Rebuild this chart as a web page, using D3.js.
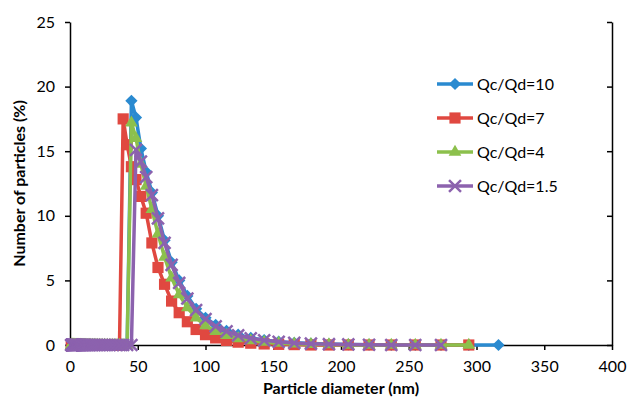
<!DOCTYPE html>
<html>
<head>
<meta charset="utf-8">
<script src="https://cdn.jsdelivr.net/npm/d3@7"></script>
<style>
  body { margin: 0; background: #fff; }
  text { font-family: Lato, "Open Sans", sans-serif; fill: #000; }
</style>
</head>
<body>
<div id="container"></div>
<script>
// size bins (nm), log spaced, shared by all series
var diameters = [1.00, 1.07, 1.15, 1.24, 1.33, 1.43, 1.54, 1.65, 1.78, 1.91,
    2.05, 2.21, 2.37, 2.55, 2.74, 2.94, 3.16, 3.40, 3.65, 3.92,
    4.22, 4.53, 4.87, 5.23, 5.62, 6.04, 6.49, 6.98, 7.50, 8.06,
    8.66, 9.31, 10.0, 10.75, 11.55, 12.41, 13.34, 14.33, 15.40, 16.55,
    17.78, 19.11, 20.54, 22.07, 23.71, 25.48, 27.38, 29.43, 31.62, 33.98,
    36.52, 39.24, 42.17, 45.32, 48.70, 52.33, 56.23, 60.43, 64.94, 69.78,
    74.99, 80.58, 86.60, 93.06, 100.0, 107.5, 115.5, 124.1, 133.4, 143.3,
    154.0, 165.5, 177.8, 191.1, 205.4, 220.7, 237.1, 254.8, 273.8, 294.3,
    316.2];

// values from index 51 (39.24 nm) on; every bin before is 0
var startIndex = 51;
var q10 = [0, 0, 18.9, 17.6, 15.2, 13.4, 11.8, 10.0, 8.1, 6.4, 5.0, 3.8, 2.8, 2.1, 1.55, 1.1,
    0.8, 0.55, 0.38, 0.26, 0.17, 0.11, 0.07, 0.04, 0.02, 0, 0, 0, 0, 0];
var q7 = [17.5, 15.5, 13.8, 12.8, 11.5, 10.2, 7.9, 6.0, 4.7, 3.4, 2.5, 1.8, 1.2, 0.8, 0.55,
    0.35, 0.22, 0.14, 0.08, 0.05, 0.03, 0, 0, 0, 0, 0, 0, 0, 0];
var q4 = [0, 0, 17.2, 16.0, 14.0, 12.3, 10.5, 8.6, 6.8, 5.2, 3.9, 2.9, 2.1, 1.5, 1.05, 0.75,
    0.5, 0.34, 0.22, 0.14, 0.09, 0.05, 0.03, 0, 0, 0, 0, 0, 0];
var q15 = [0, 0, 0, 15.1, 14.2, 13.0, 11.6, 9.8, 7.9, 6.2, 4.8, 3.6, 2.7, 2.0, 1.45, 1.05,
    0.75, 0.52, 0.36, 0.25, 0.16, 0.1, 0.06, 0.04, 0.02, 0, 0, 0];

var seriesNames = ['Qc/Qd=10', 'Qc/Qd=7', 'Qc/Qd=4', 'Qc/Qd=1.5'];
var seriesValues = [q10, q7, q4, q15];
var colors = ['#2a8ad0', '#e04840', '#8cc04c', '#8c62ae'];
var markers = ['diamond', 'square', 'triangle', 'cross'];

var xTicks = [0, 50, 100, 150, 200, 250, 300, 350, 400];
var yTicks = [0, 5, 10, 15, 20, 25];

var width = 628,
    height = 400,
    margin = { left: 70, right: 16, top: 22, bottom: 55 };

var svg = d3.select('div#container')
    .append('svg')
    .attr('width', width)
    .attr('height', height);

var x = d3.scaleLinear().domain([0, 400]).range([margin.left, width - margin.right]);
var y = d3.scaleLinear().domain([0, 25]).range([height - margin.bottom, margin.top]);

function fullSeries(vals) {
    var out = [];
    for (var i = 0; i < startIndex + vals.length; i++) {
        out.push([diameters[i], i < startIndex ? 0 : vals[i - startIndex]]);
    }
    return out;
}

// axes
var xAxis = svg.append('g')
    .attr('transform', 'translate(0,' + y(0) + ')')
    .call(d3.axisBottom(x).tickValues(xTicks).tickSize(5).tickSizeOuter(0).tickPadding(11));
var yAxis = svg.append('g')
    .attr('transform', 'translate(' + x(0) + ',0)')
    .call(d3.axisLeft(y).tickValues(yTicks).tickSize(5).tickSizeOuter(0).tickPadding(10));
var yAxisRight = svg.append('g')
    .attr('transform', 'translate(' + x(400) + ',0)')
    .call(d3.axisLeft(y).tickValues(yTicks).tickSize(5).tickSizeOuter(0).tickFormat(''));

[xAxis, yAxis, yAxisRight].forEach(function(a) {
    a.select('.domain').attr('stroke', '#000').attr('stroke-width', 1.5);
    a.selectAll('.tick line').attr('stroke', '#000').attr('stroke-width', 1.5);
    a.selectAll('.tick text').style('font-size', '16px').style('font-family', 'Lato, sans-serif').attr('fill', '#222');
});

var line = d3.line()
    .x(function(d) { return x(d[0]); })
    .y(function(d) { return y(d[1]); });

// diamond is a square turned 45 degrees, like the spreadsheet marker
var symbolTypes = {
    diamond: d3.symbolSquare,
    square: d3.symbolSquare,
    triangle: d3.symbolTriangle,
    cross: d3.symbolTimes
};
var symbolSizes = { diamond: 75, square: 125, triangle: 70, cross: 95 };

function drawMarker(g, type, color, cx, cy) {
    var p = d3.symbol().type(symbolTypes[type]).size(symbolSizes[type])();
    var t = 'translate(' + cx + ',' + cy + ')' + (type === 'diamond' ? ' rotate(45)' : '');
    var m = g.append('path').attr('d', p).attr('transform', t);
    if (type === 'cross') {
        m.attr('fill', 'none').attr('stroke', color).attr('stroke-width', 2.5);
    } else {
        m.attr('fill', color);
    }
    return m;
}

seriesValues.forEach(function(vals, s) {
    var data = fullSeries(vals);
    var g = svg.append('g');
    g.append('path')
        .datum(data)
        .attr('d', line)
        .attr('fill', 'none')
        .attr('stroke', colors[s])
        .attr('stroke-width', 3.5)
        .attr('stroke-linejoin', 'round');
    data.forEach(function(d) {
        drawMarker(g, markers[s], colors[s], x(d[0]), y(d[1]));
    });
});

// legend
var legend = svg.append('g').attr('transform', 'translate(437,84)');
seriesNames.forEach(function(name, i) {
    var row = legend.append('g').attr('transform', 'translate(0,' + (i * 34) + ')');
    row.append('line')
        .attr('x1', 0).attr('x2', 36)
        .attr('stroke', colors[i]).attr('stroke-width', 3.5);
    drawMarker(row, markers[i], colors[i], 18, 0);
    row.append('text')
        .attr('x', 40).attr('y', 6)
        .style('font-size', '16px')
        .text(name);
});

// axis titles
svg.append('text')
    .attr('x', (x(0) + x(400)) / 2)
    .attr('y', 394)
    .attr('text-anchor', 'middle')
    .style('font-size', '16px')
    .style('font-weight', 'bold')
    .text('Particle diameter (nm)');

svg.append('text')
    .attr('transform', 'translate(25,' + y(12.5) + ') rotate(-90)')
    .attr('text-anchor', 'middle')
    .style('font-size', '16px')
    .style('font-weight', 'bold')
    .text('Number of particles (%)');
</script>
</body>
</html>
